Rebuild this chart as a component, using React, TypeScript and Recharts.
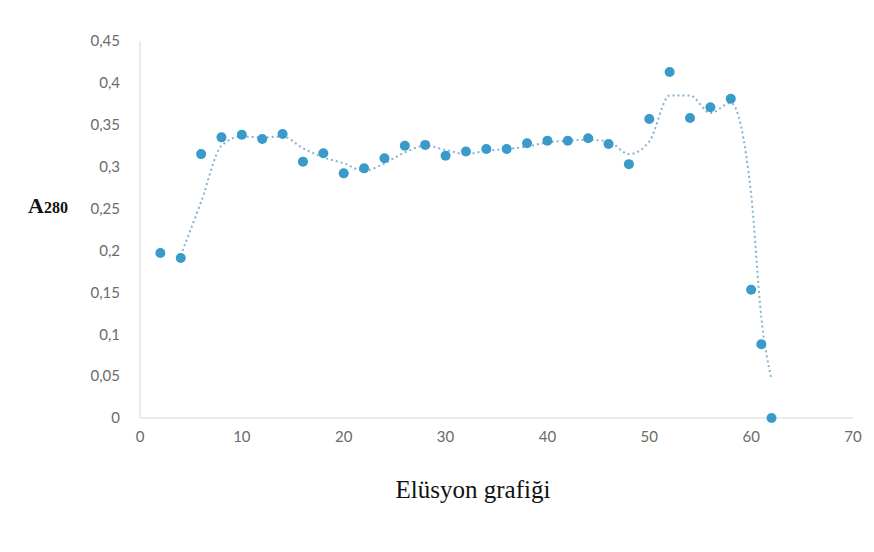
import { ComposedChart, Scatter, Line, XAxis, YAxis, Label } from 'recharts';

const fractions = [2, 4, 6, 8, 10, 12, 14, 16, 18, 20, 22, 24, 26, 28, 30, 32, 34, 36, 38, 40, 42, 44, 46, 48, 50, 52, 54, 56, 58, 60, 61, 62];
const absorbance = [0.197, 0.191, 0.315, 0.335, 0.338, 0.333, 0.339, 0.306, 0.316, 0.292, 0.298, 0.31, 0.325, 0.326, 0.313, 0.318, 0.321, 0.321, 0.328, 0.331, 0.331, 0.334, 0.327, 0.303, 0.357, 0.413, 0.358, 0.371, 0.381, 0.153, 0.088, 0];

// dotted trend line (2-point moving average)
const trendX = [4, 6, 8, 10, 12, 14, 16, 18, 20, 22, 24, 26, 28, 30, 32, 34, 36, 38, 40, 42, 44, 46, 48, 50, 52, 54, 56, 58, 60, 61, 62];
const trendY = [0.194, 0.258, 0.325, 0.336, 0.335, 0.336, 0.322, 0.311, 0.304, 0.295, 0.304, 0.317, 0.325, 0.32, 0.315, 0.319, 0.321, 0.324, 0.329, 0.331, 0.332, 0.33, 0.315, 0.33, 0.385, 0.385, 0.364, 0.376, 0.267, 0.12, 0.046];

const xTicks = [0, 10, 20, 30, 40, 50, 60, 70];
const yTicks = [0, 0.05, 0.1, 0.15, 0.2, 0.25, 0.3, 0.35, 0.4, 0.45];

const points = fractions.map((x, i) => ({ x, y: absorbance[i] }));
const trend = trendX.map((x, i) => ({ x, y: trendY[i] }));

const tickStyle = { fill: '#6b6b6b', fontSize: 15, fontFamily: 'Lato, "Open Sans", sans-serif' };
const serif = '"Liberation Serif", "DejaVu Serif", serif';

function formatTick(v: number) {
  return String(v).replace('.', ',');
}

function YLabel() {
  return (
    <text x={28} y={213} fill="#111" fontFamily={serif}>
      <tspan fontSize={22} fontWeight="bold">A</tspan>
      <tspan fontSize={16} fontWeight="bold">280</tspan>
    </text>
  );
}

function XLabel() {
  return (
    <text x={473} y={498} fill="#111" fontFamily={serif} fontSize={25} textAnchor="middle">
      Elüsyon grafiği
    </text>
  );
}

export default function App() {
  return (
    <div style={{ position: 'absolute', left: 0, top: 0, width: 874, height: 552, background: '#fff' }}>
      <ComposedChart width={874} height={552} margin={{ top: 41, right: 21, left: 80, bottom: 104 }}>
        <XAxis
          type="number"
          dataKey="x"
          domain={[0, 70]}
          ticks={xTicks}
          tick={tickStyle}
          tickLine={false}
          tickSize={0}
          tickMargin={13}
          axisLine={{ stroke: '#d9d9d9' }}
          height={30}
        >
          <Label content={<XLabel />} />
        </XAxis>
        <YAxis
          type="number"
          dataKey="y"
          domain={[0, 0.45]}
          ticks={yTicks}
          tick={tickStyle}
          tickFormatter={formatTick}
          tickLine={false}
          tickSize={0}
          tickMargin={20}
          axisLine={{ stroke: '#d9d9d9' }}
          width={60}
        >
          <Label content={<YLabel />} />
        </YAxis>
        <Line
          data={trend}
          dataKey="y"
          type="monotone"
          stroke="#86b3d0"
          strokeWidth={2}
          strokeDasharray="2 3"
          dot={false}
          activeDot={false}
          isAnimationActive={false}
        />
        <Scatter
          data={points}
          dataKey="y"
          fill="#3a9ac9"
          shape={(p: any) => <circle cx={p.cx} cy={p.cy} r={5} fill="#3a9ac9" />}
          isAnimationActive={false}
        />
      </ComposedChart>
    </div>
  );
}
